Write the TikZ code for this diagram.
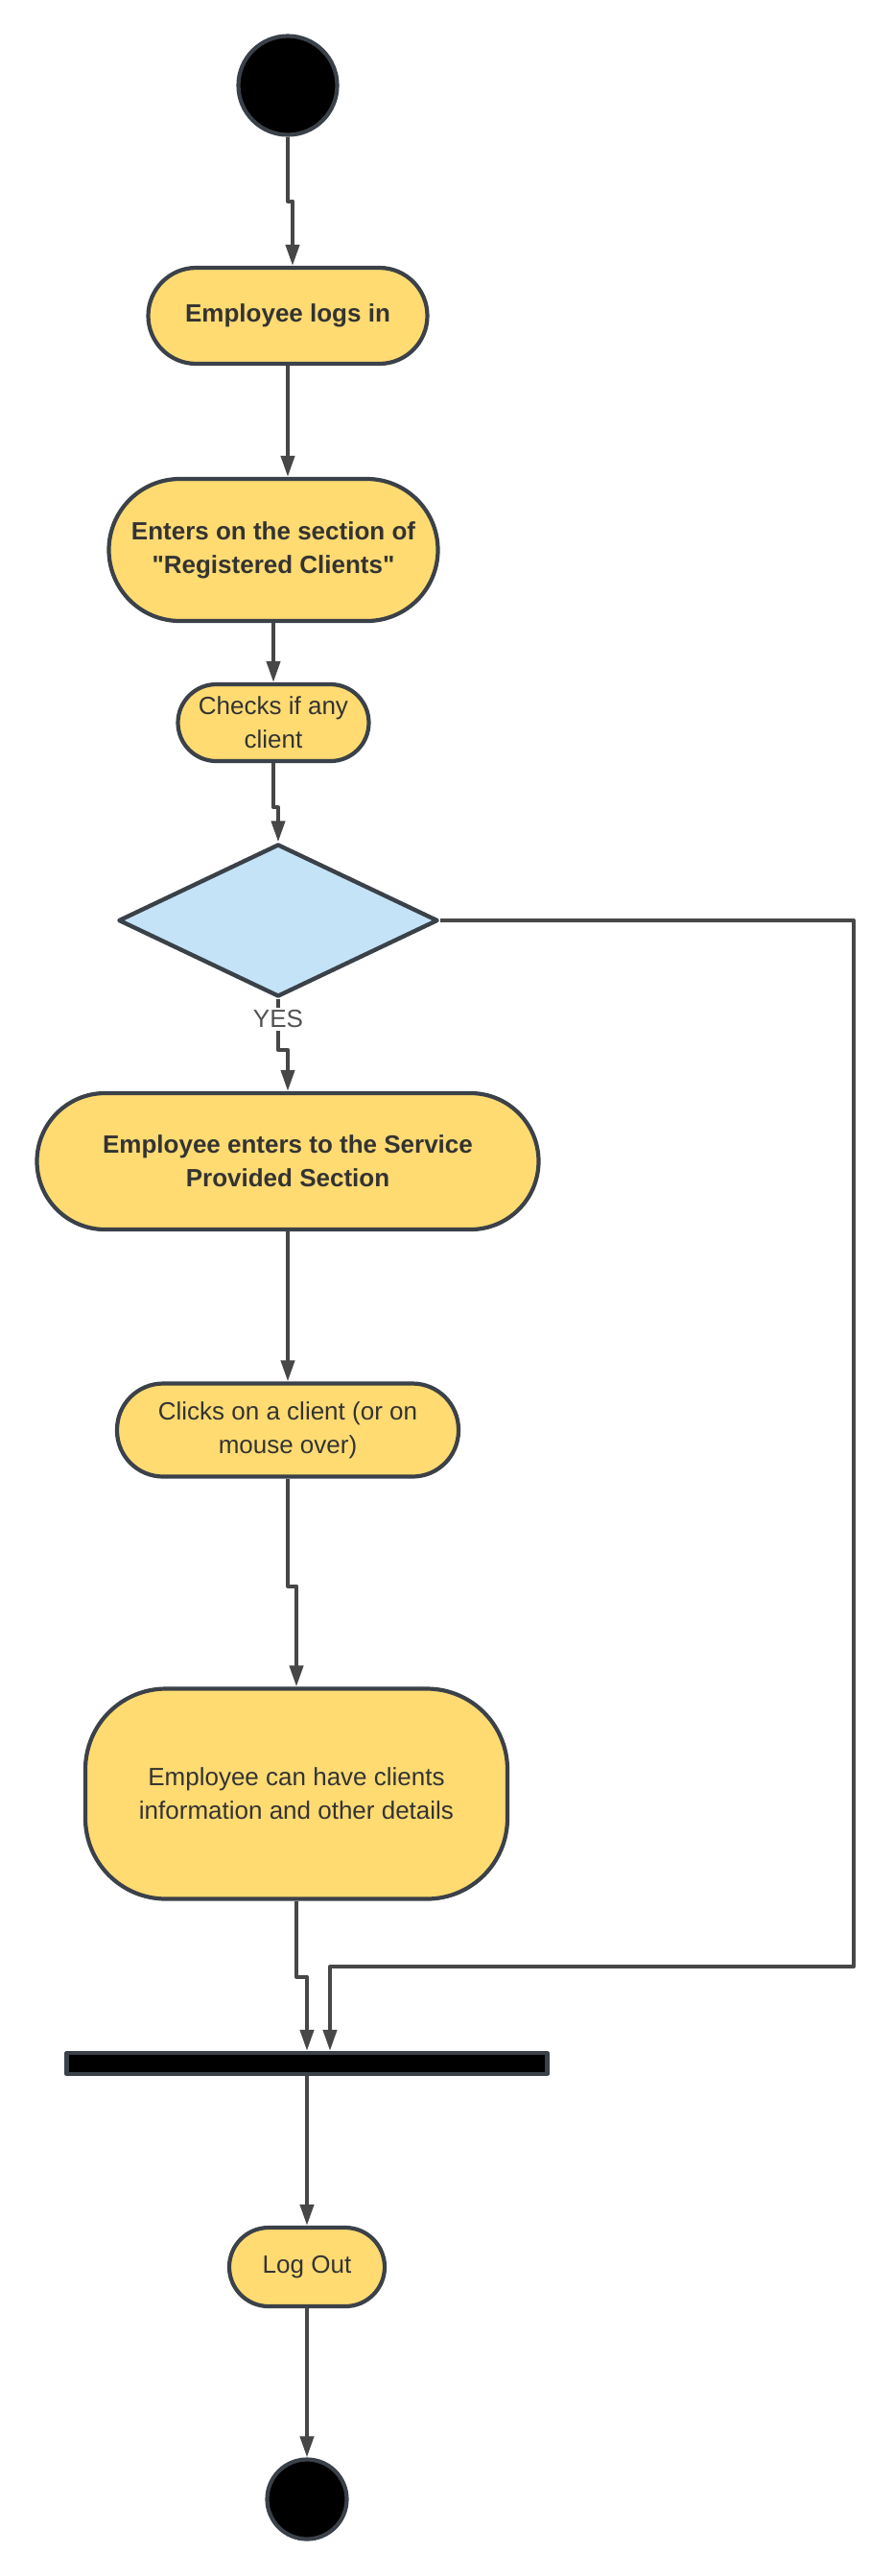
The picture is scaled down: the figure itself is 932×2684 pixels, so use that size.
\documentclass[tikz,border=0pt]{standalone}
\usepackage{fontspec}
\setmainfont{Liberation Sans}[Ligatures=TeXOff]
\usetikzlibrary{arrows.meta,shapes.geometric}
\definecolor{amarillo}{HTML}{FFDB72}
\definecolor{celeste}{HTML}{C4E3F6}
\definecolor{borde}{HTML}{3B4149}
\definecolor{linea}{HTML}{474747}
\definecolor{texto}{HTML}{333333}
\begin{document}
\begin{tikzpicture}[x=0.5pt, y=-0.5pt, line width=2pt, line join=round,
  font=\fontsize{13}{17.5}\selectfont, text=texto,
  accion/.style={draw=borde, fill=amarillo, line width=2.1pt, rectangle, align=center, inner sep=0pt},
  negrita/.style={font=\fontsize{13}{17.5}\selectfont\bfseries},
  punto/.style={draw=borde, fill=black, line width=2.1pt, circle, inner sep=0pt},
  flecha/.style={draw=linea, -{Triangle[length=11pt, width=7pt]}}]
  \useasboundingbox (0,0) rectangle (932,2684);
  % inicio
  \node[punto, minimum size=51.5pt] (inicio) at (300,89) {};
  % las acciones
  \node[accion, negrita, minimum width=145.5pt, minimum height=50pt, rounded corners=25pt]
    (login) at (300,329) {Employee logs in};
  \node[accion, negrita, minimum width=171.5pt, minimum height=74pt, rounded corners=37pt]
    (seccion) at (285,573) {Enters on the section of\\"Registered Clients"};
  \node[accion, minimum width=99.5pt, minimum height=40pt, rounded corners=20pt]
    (revisa) at (285,753) {Checks if any\\client};
  % la decision
  \node[draw=borde, fill=celeste, line width=2.2pt, diamond, inner sep=0pt,
    minimum width=166.5pt, minimum height=79.5pt] (decision) at (290,959) {};
  \node[accion, negrita, minimum width=261.5pt, minimum height=71pt, rounded corners=35.5pt]
    (servicio) at (300,1210) {Employee enters to the Service\\Provided Section};
  \node[accion, minimum width=178pt, minimum height=48.5pt, rounded corners=24pt]
    (clic) at (300,1490) {Clicks on a client (or on\\mouse over)};
  \node[accion, minimum width=220pt, minimum height=109.5pt, rounded corners=42pt]
    (detalles) at (309,1869) {Employee can have clients\\information and other details};
  % la barra de union
  \node[draw=borde, fill=black, line width=2.1pt, rectangle, inner sep=0pt,
    minimum width=250.5pt, minimum height=11pt] (barra) at (320,2150) {};
  \node[accion, minimum width=81pt, minimum height=41pt, rounded corners=20.5pt]
    (salir) at (320,2362) {Log Out};
  % fin
  \node[punto, minimum size=41.5pt] (fin) at (320,2604) {};
  \coordinate (vuelta) at (890,2049);
  % las flechas
  \draw[flecha] (inicio.south) -- ++(0,67) -| ([xshift=2.5pt]login.north);
  \draw[flecha] (login.south) -- (login.south |- seccion.north);
  \draw[flecha] (seccion.south) -- (revisa.north);
  \draw[flecha] (revisa.south) -- ++(0,46) -| (decision.north);
  \draw[flecha] (decision.south) -- node[pos=0.4, fill=white, inner sep=1.5pt, text=texto!85] {YES}
    ++(0,53) -| (servicio.north);
  \draw[flecha] (servicio.south) -- (clic.north);
  \draw[flecha] (clic.south) -- ++(0,112) -| (detalles.north);
  \draw[flecha] (detalles.south) -- ++(0,79) -| (barra.north);
  \draw[flecha] (decision.east) -| (vuelta) -| ([xshift=12pt]barra.north);
  \draw[flecha] (barra.south) -- (salir.north);
  \draw[flecha] (salir.south) -- (fin.north);
\end{tikzpicture}
\end{document}
